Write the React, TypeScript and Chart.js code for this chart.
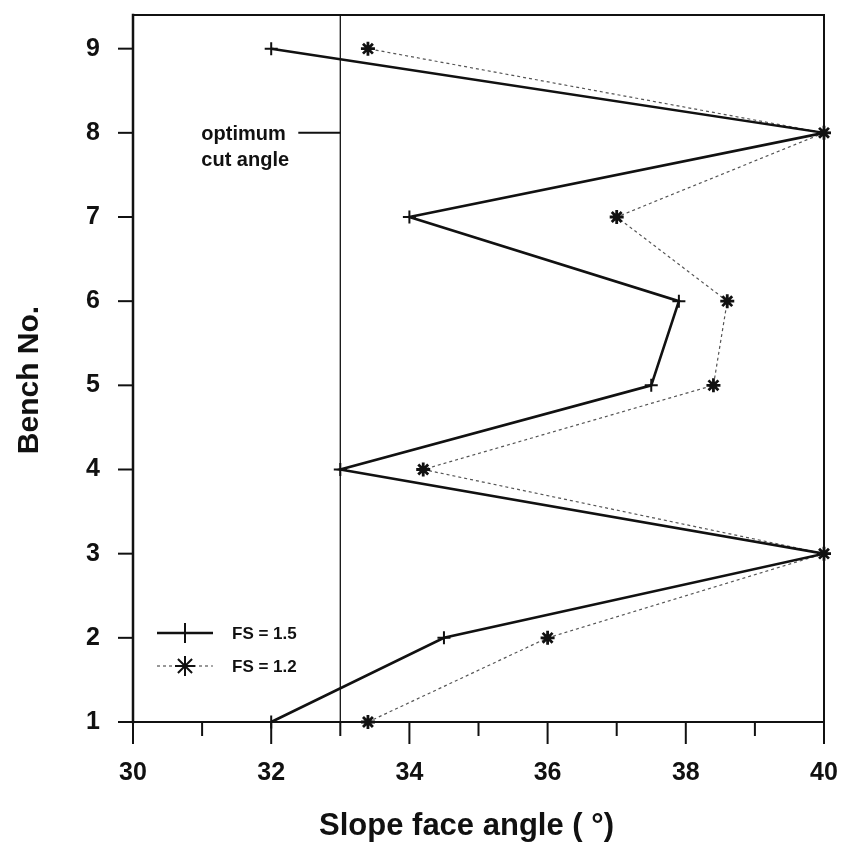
import { useEffect, useRef } from "react";
import { Chart, registerables } from "chart.js";

Chart.register(...registerables);

// Bench numbers (y) and slope face angles in degrees (x) for two factors of safety
const benches = [1, 2, 3, 4, 5, 6, 7, 8, 9];
const angleFs15 = [32, 34.5, 40, 33, 37.5, 37.9, 34, 40, 32];
const angleFs12 = [33.4, 36, 40, 34.2, 38.4, 38.6, 37, 40, 33.4];
const seriesLabels = ["FS = 1.5", "FS = 1.2"];

// Reference line for the optimum cut angle and its note
const optimumAngle = 33;
const noteBench = 8;
const noteLines = ["optimum", "cut angle"];

// Axis setup
const xMin = 30;
const xMax = 40;
const xTickLabels = [30, 32, 34, 36, 38, 40];
const yMin = 1;
const yMax = 9.4;
const xTitle = "Slope face angle ( \u00b0)";
const yTitle = "Bench No.";

const FONT = '"Liberation Sans", Arial, Helvetica, sans-serif';
const INK = "#111111";

function drawMarker(ctx: CanvasRenderingContext2D, style: string, cx: number, cy: number, r: number) {
  ctx.beginPath();
  ctx.moveTo(cx - r, cy);
  ctx.lineTo(cx + r, cy);
  ctx.moveTo(cx, cy - r);
  ctx.lineTo(cx, cy + r);
  if (style === "star") {
    const d = r * Math.SQRT1_2;
    ctx.moveTo(cx - d, cy - d);
    ctx.lineTo(cx + d, cy + d);
    ctx.moveTo(cx - d, cy + d);
    ctx.lineTo(cx + d, cy - d);
  }
  ctx.stroke();
}

function clearScalePadding(s: any) {
  s.paddingLeft = 0;
  s.paddingRight = 0;
  s.paddingTop = 0;
  s.paddingBottom = 0;
}

const decorPlugin = {
  id: "decor",
  beforeDatasetsDraw(chart: any) {
    const { ctx, chartArea: a, scales } = chart;
    const x = scales.x;
    const y = scales.y;
    ctx.save();
    // vertical optimum line
    const xo = x.getPixelForValue(optimumAngle);
    ctx.strokeStyle = INK;
    ctx.lineWidth = 1.3;
    ctx.beginPath();
    ctx.moveTo(xo, a.top);
    ctx.lineTo(xo, a.bottom);
    ctx.stroke();
    // note with leader line
    const yn = y.getPixelForValue(noteBench);
    ctx.lineWidth = 2;
    ctx.beginPath();
    ctx.moveTo(xo - 42, yn);
    ctx.lineTo(xo, yn);
    ctx.stroke();
    ctx.fillStyle = INK;
    ctx.font = `bold 20px ${FONT}`;
    ctx.textAlign = "left";
    ctx.textBaseline = "middle";
    ctx.fillText(noteLines[0], xo - 139, yn + 2);
    ctx.fillText(noteLines[1], xo - 139, yn + 28);
    ctx.restore();
  },
  afterDatasetsDraw(chart: any) {
    const { ctx, chartArea: a, scales } = chart;
    const x = scales.x;
    const y = scales.y;
    ctx.save();
    ctx.strokeStyle = INK;
    ctx.lineCap = "square";
    // frame
    ctx.lineWidth = 2;
    ctx.beginPath();
    ctx.moveTo(a.left, a.top);
    ctx.lineTo(a.right, a.top);
    ctx.moveTo(a.right, a.top);
    ctx.lineTo(a.right, a.bottom);
    ctx.moveTo(a.left, a.bottom);
    ctx.lineTo(a.right, a.bottom);
    ctx.stroke();
    ctx.lineWidth = 2.5;
    ctx.beginPath();
    ctx.moveTo(a.left, a.top);
    ctx.lineTo(a.left, a.bottom);
    ctx.stroke();
    // x ticks: long for labelled values, short otherwise
    ctx.lineCap = "butt";
    ctx.lineWidth = 2;
    x.ticks.forEach((t: any) => {
      const px = x.getPixelForValue(t.value);
      const len = xTickLabels.includes(t.value) ? 22 : 14;
      ctx.beginPath();
      ctx.moveTo(px, a.bottom);
      ctx.lineTo(px, a.bottom + len);
      ctx.stroke();
    });
    // y ticks
    y.ticks.forEach((t: any) => {
      const py = y.getPixelForValue(t.value);
      ctx.beginPath();
      ctx.moveTo(a.left - 15, py);
      ctx.lineTo(a.left, py);
      ctx.stroke();
    });
    // axis titles
    ctx.fillStyle = INK;
    ctx.font = `bold 31px ${FONT}`;
    ctx.textAlign = "center";
    ctx.textBaseline = "middle";
    ctx.fillText(xTitle, (a.left + a.right) / 2 - 12, 826);
    ctx.font = `bold 30px ${FONT}`;
    ctx.save();
    ctx.translate(30, 380);
    ctx.rotate(-Math.PI / 2);
    ctx.fillText(yTitle, 0, 0);
    ctx.restore();
    // legend
    const ds = chart.data.datasets;
    const rows = [a.bottom - 89, a.bottom - 56];
    rows.forEach((ly, i) => {
      const d = ds[i];
      ctx.save();
      ctx.strokeStyle = d.borderColor;
      ctx.lineWidth = d.borderWidth;
      ctx.setLineDash(d.borderDash || []);
      ctx.beginPath();
      ctx.moveTo(a.left + 24, ly);
      ctx.lineTo(a.left + 80, ly);
      ctx.stroke();
      ctx.restore();
      ctx.save();
      ctx.strokeStyle = INK;
      ctx.lineWidth = 2;
      drawMarker(ctx, d.pointStyle, a.left + 52, ly, 10);
      ctx.restore();
      ctx.fillStyle = INK;
      ctx.font = `bold 17px ${FONT}`;
      ctx.textAlign = "left";
      ctx.textBaseline = "middle";
      ctx.fillText(seriesLabels[i], a.left + 99, ly + 1);
    });
    ctx.restore();
  },
};

export default function App() {
  const canvasRef = useRef<HTMLCanvasElement | null>(null);

  useEffect(() => {
    const canvas = canvasRef.current;
    if (!canvas) return;
    const chart = new Chart(canvas, {
      type: "line",
      data: {
        datasets: [
          {
            label: seriesLabels[0],
            data: benches.map((b, i) => ({ x: angleFs15[i], y: b })),
            borderColor: INK,
            borderWidth: 2.6,
            pointStyle: "cross",
            pointRadius: 6.5,
            pointBorderWidth: 2,
            pointBorderColor: INK,
            pointBackgroundColor: INK,
            tension: 0,
            clip: false,
          } as any,
          {
            label: seriesLabels[1],
            data: benches.map((b, i) => ({ x: angleFs12[i], y: b })),
            borderColor: "#555555",
            borderWidth: 1.2,
            borderDash: [3, 3],
            pointStyle: "star",
            pointRadius: 7,
            pointBorderWidth: 2.8,
            pointBorderColor: INK,
            pointBackgroundColor: INK,
            tension: 0,
            clip: false,
          } as any,
        ],
      },
      options: {
        responsive: false,
        animation: false,
        devicePixelRatio: 1,
        layout: { autoPadding: false, padding: { top: 15, right: 23, left: 0, bottom: 0 } },
        plugins: {
          legend: { display: false },
          tooltip: { enabled: false },
        },
        scales: {
          x: {
            type: "linear",
            min: xMin,
            max: xMax,
            grid: { display: false, drawTicks: false },
            border: { display: false },
            ticks: {
              stepSize: 1,
              padding: 36,
              color: INK,
              maxRotation: 0,
              autoSkip: false,
              font: { family: FONT, size: 25, weight: "bold" },
              callback: (v: any) => (xTickLabels.includes(Number(v)) ? String(v) : ""),
            },
            afterFit: (s: any) => {
              s.height = 128;
              clearScalePadding(s);
            },
          },
          y: {
            type: "linear",
            min: yMin,
            max: yMax,
            grid: { display: false, drawTicks: false },
            border: { display: false },
            afterBuildTicks: (s: any) => {
              s.ticks = benches.map((v) => ({ value: v }));
            },
            ticks: {
              padding: 33,
              color: INK,
              font: { family: FONT, size: 25, weight: "bold" },
              callback: (v: any) => String(v),
            },
            afterFit: (s: any) => {
              s.width = 133;
              clearScalePadding(s);
            },
          },
        },
      } as any,
      plugins: [decorPlugin],
    });
    return () => chart.destroy();
  }, []);

  return (
    <div style={{ position: "absolute", left: 0, top: 0, width: 847, height: 850, background: "#fff" }}>
      <canvas ref={canvasRef} width={847} height={850} />
    </div>
  );
}
